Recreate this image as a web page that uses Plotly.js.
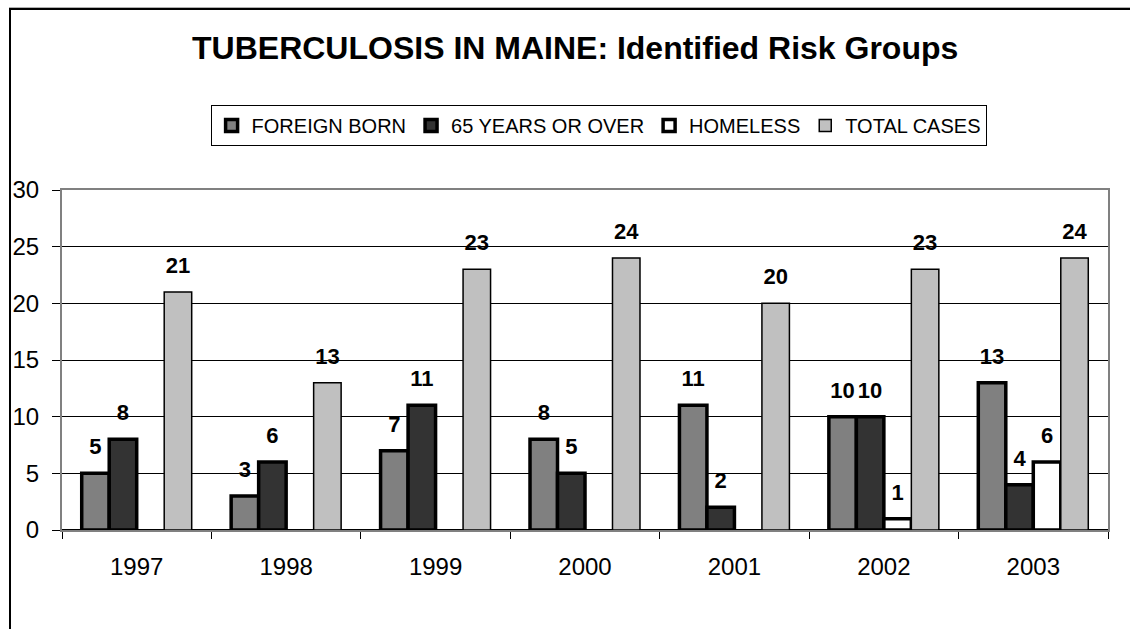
<!DOCTYPE html>
<html>
<head>
<meta charset="utf-8">
<script src="https://cdn.plot.ly/plotly-3.0.1.min.js"></script>
<style>
  html, body { margin: 0; padding: 0; background: #fff; }
  #wrap { position: relative; width: 1130px; height: 629px; overflow: hidden; }
  #chart { position: absolute; left: 0; top: 0; width: 1130px; height: 629px; }
  #frame { position: absolute; left: 9px; top: 8px; width: 1200px; height: 700px;
           border-left: 2px solid #000; border-top: 2px solid #000;
           box-shadow: 0 -1px 0 0 #b0b0b0; pointer-events: none; }
</style>
</head>
<body>
<div id="wrap">
  <div id="chart"></div>
  <div id="frame"></div>
</div>
<script>
const years = ['1997', '1998', '1999', '2000', '2001', '2002', '2003'];
const foreignBorn = [5, 3, 7, 8, 11, 10, 13];
const over65 = [8, 6, 11, 5, 2, 10, 4];
const homeless = [0, 0, 0, 0, 0, 1, 6];
const totalCases = [21, 13, 23, 24, 20, 23, 24];

const seriesNames = ['FOREIGN BORN', '65 YEARS OR OVER', 'HOMELESS', 'TOTAL CASES'];
const seriesValues = [foreignBorn, over65, homeless, totalCases];
const seriesColors = ['#808080', '#333333', '#ffffff', '#c0c0c0'];
const seriesLineWidths = [3.5, 3.5, 3.5, 1.5];

const FONT = 'Liberation Sans, Arial, Helvetica, sans-serif';
const traces = [];

seriesNames.forEach((name, i) => {
  traces.push({
    type: 'bar',
    name: name,
    x: years,
    // zero values are not drawn as bars (no outline sitting on the axis)
    y: seriesValues[i].map(v => v > 0 ? v : null),
    offsetgroup: 'g' + i,
    alignmentgroup: 'bars',
    marker: { color: seriesColors[i], line: { color: '#000', width: seriesLineWidths[i] } },
    hoverinfo: 'x+y+name'
  });
});

seriesNames.forEach((name, i) => {
  traces.push({
    type: 'scatter',
    mode: 'markers+text',
    name: name + ' label',
    x: years,
    y: seriesValues[i],
    offsetgroup: 'g' + i,
    alignmentgroup: 'labels',
    text: seriesValues[i].map(v => v > 0 ? String(v) : ''),
    textposition: 'top center',
    textfont: { family: FONT, size: 22, color: '#000', weight: 'bold' },
    marker: { size: 20, color: 'rgba(0,0,0,0)' },
    showlegend: false,
    hoverinfo: 'skip',
    cliponaxis: false
  });
});

const layout = {
  width: 1130,
  height: 629,
  margin: { l: 62, r: 22, t: 190, b: 99 },
  paper_bgcolor: '#fff',
  plot_bgcolor: '#fff',
  font: { family: FONT, color: '#000', size: 24 },
  barmode: 'group',
  bargap: 0.264,
  bargroupgap: 0,
  scattermode: 'group',
  scattergap: 0.264,
  title: {
    text: 'TUBERCULOSIS IN MAINE: Identified Risk Groups',
    font: { family: FONT, size: 32, color: '#000', weight: 'bold' },
    xref: 'container', x: 0.509, xanchor: 'center',
    yref: 'container', y: 1 - 48 / 629, yanchor: 'middle'
  },
  showlegend: true,
  legend: {
    orientation: 'h',
    x: 0.513, xanchor: 'center',
    y: 1.19, yanchor: 'middle',
    bgcolor: '#fff',
    bordercolor: '#000',
    borderwidth: 1,
    font: { family: FONT, size: 20, color: '#000' },
    traceorder: 'normal'
  },
  xaxis: {
    type: 'category',
    showgrid: false,
    showline: true, linecolor: '#808080', linewidth: 2, mirror: true,
    ticks: 'outside', tickson: 'boundaries', ticklen: 7, tickcolor: '#000', tickwidth: 1,
    ticklabelstandoff: 14,
    tickfont: { family: FONT, size: 24, color: '#000' }
  },
  yaxis: {
    range: [0, 30],
    dtick: 5,
    showgrid: true, gridcolor: '#000', gridwidth: 1,
    zeroline: true, zerolinecolor: '#000', zerolinewidth: 1.5,
    showline: true, linecolor: '#808080', linewidth: 2, mirror: true,
    ticks: 'outside', ticklen: 8, tickcolor: '#000', tickwidth: 1,
    ticklabelstandoff: 8,
    tickfont: { family: FONT, size: 24, color: '#000' }
  }
};

Plotly.newPlot('chart', traces, layout, { displayModeBar: false, staticPlot: true });
</script>
</body>
</html>
